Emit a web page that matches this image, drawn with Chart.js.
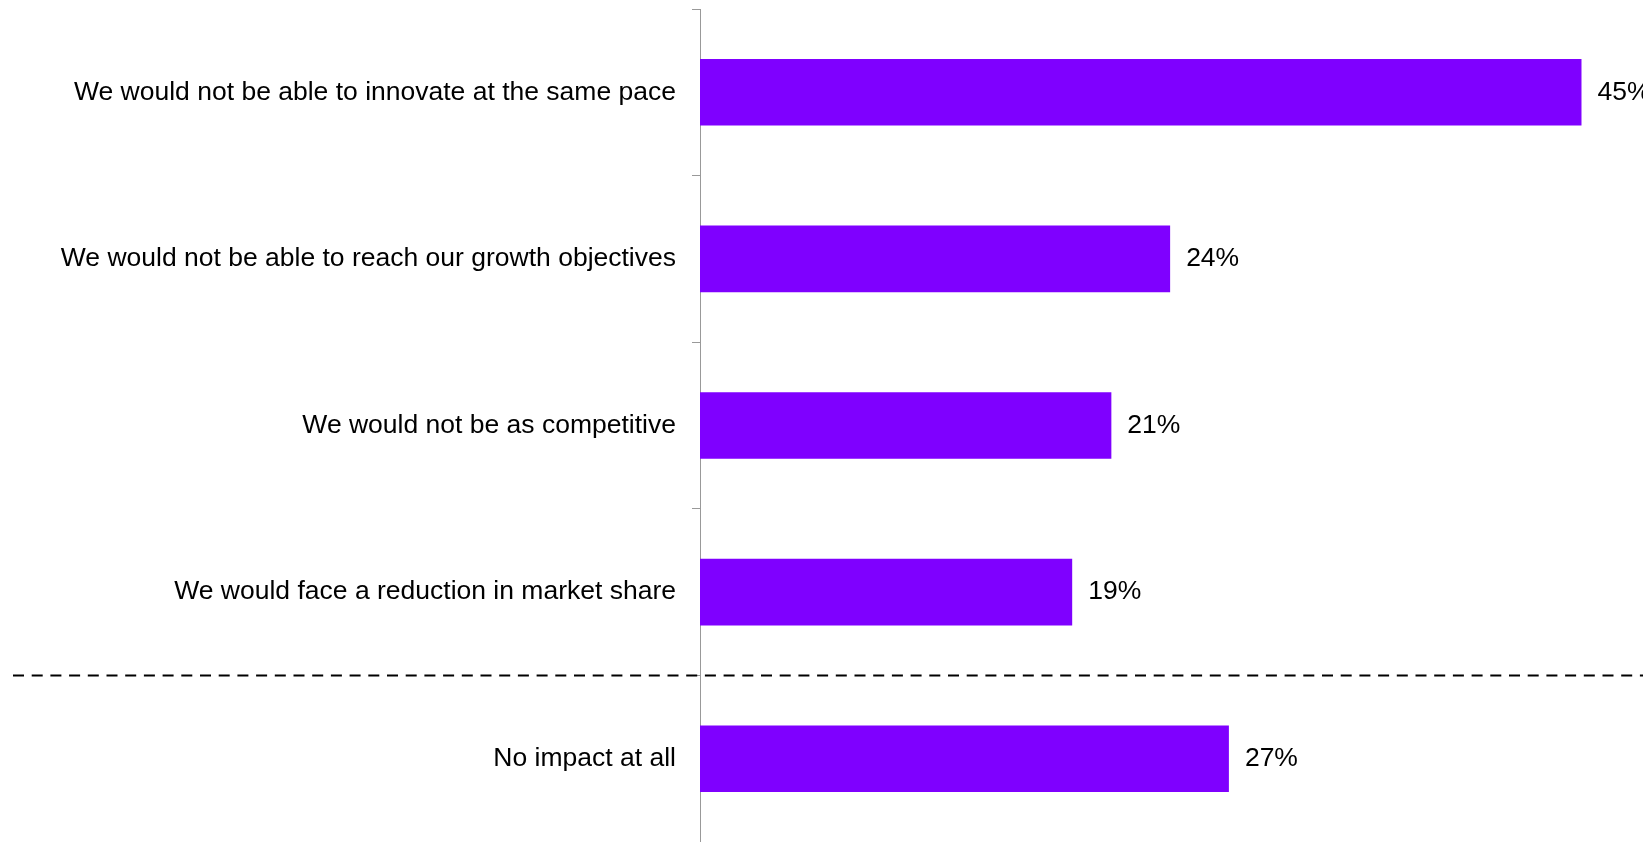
<!DOCTYPE html>
<html>
<head>
<meta charset="utf-8">
<title>Impact</title>
<script src="https://cdn.jsdelivr.net/npm/chart.js@4.4.0/dist/chart.umd.min.js"></script>
<style>
    body { margin: 0; background: #fff; overflow: hidden; }
    #wrap { width: 1643px; height: 842px; }
</style>
</head>
<body>
<div id="wrap"><canvas id="myChart" width="1643" height="842"></canvas></div>
<script>
var categories = [
    "We would not be able to innovate at the same pace",
    "We would not be able to reach our growth objectives",
    "We would not be as competitive",
    "We would face a reduction in market share",
    "No impact at all"
];
var shares = [45, 24, 21, 19, 27];

var labelFont = "26.5px 'Liberation Sans', Arial, sans-serif";

// percent text just past the end of each bar
var valueLabels = {
    id: "valueLabels",
    afterDatasetsDraw: function (chart) {
        var ctx = chart.ctx;
        var meta = chart.getDatasetMeta(0);
        ctx.save();
        ctx.font = labelFont;
        ctx.fillStyle = "#000";
        ctx.textBaseline = "middle";
        ctx.textAlign = "left";
        meta.data.forEach(function (bar, i) {
            ctx.fillText(shares[i] + "%", bar.x + 16, bar.y);
        });
        ctx.restore();
    }
};

// dashed separator above the last row
var separator = {
    id: "separator",
    afterDraw: function (chart) {
        var y = chart.scales.y;
        var yPos = (y.getPixelForValue(3) + y.getPixelForValue(4)) / 2;
        var ctx = chart.ctx;
        ctx.save();
        ctx.strokeStyle = "#000";
        ctx.lineWidth = 2;
        ctx.setLineDash([11, 7.7]);
        ctx.beginPath();
        ctx.moveTo(13, yPos);
        ctx.lineTo(chart.width, yPos);
        ctx.stroke();
        ctx.restore();
    }
};

var ctx = document.getElementById("myChart").getContext("2d");
var myChart = new Chart(ctx, {
    type: "bar",
    data: {
        labels: categories,
        datasets: [{
            data: shares,
            backgroundColor: "#7F00FF",
            borderWidth: 0,
            barPercentage: 0.8,
            categoryPercentage: 0.5
        }]
    },
    options: {
        indexAxis: "y",
        responsive: false,
        animation: false,
        devicePixelRatio: 1,
        layout: { padding: { top: 9, right: 0, bottom: 0, left: 0 } },
        plugins: {
            legend: { display: false },
            tooltip: { enabled: false }
        },
        scales: {
            x: {
                display: false,
                min: 0,
                max: 48.14
            },
            y: {
                afterFit: function (scale) {
                    scale.width = 700;
                    // labels sit mid-row, no extra room needed above/below
                    scale.paddingTop = 0;
                    scale.paddingBottom = 0;
                },
                border: { color: "#999", width: 1 },
                grid: {
                    offset: true,
                    drawOnChartArea: false,
                    tickLength: 8,
                    color: "#999"
                },
                ticks: {
                    padding: 16,
                    color: "#000",
                    font: { family: "'Liberation Sans', Arial, sans-serif", size: 26.5 }
                }
            }
        }
    },
    plugins: [valueLabels, separator]
});
</script>
</body>
</html>
